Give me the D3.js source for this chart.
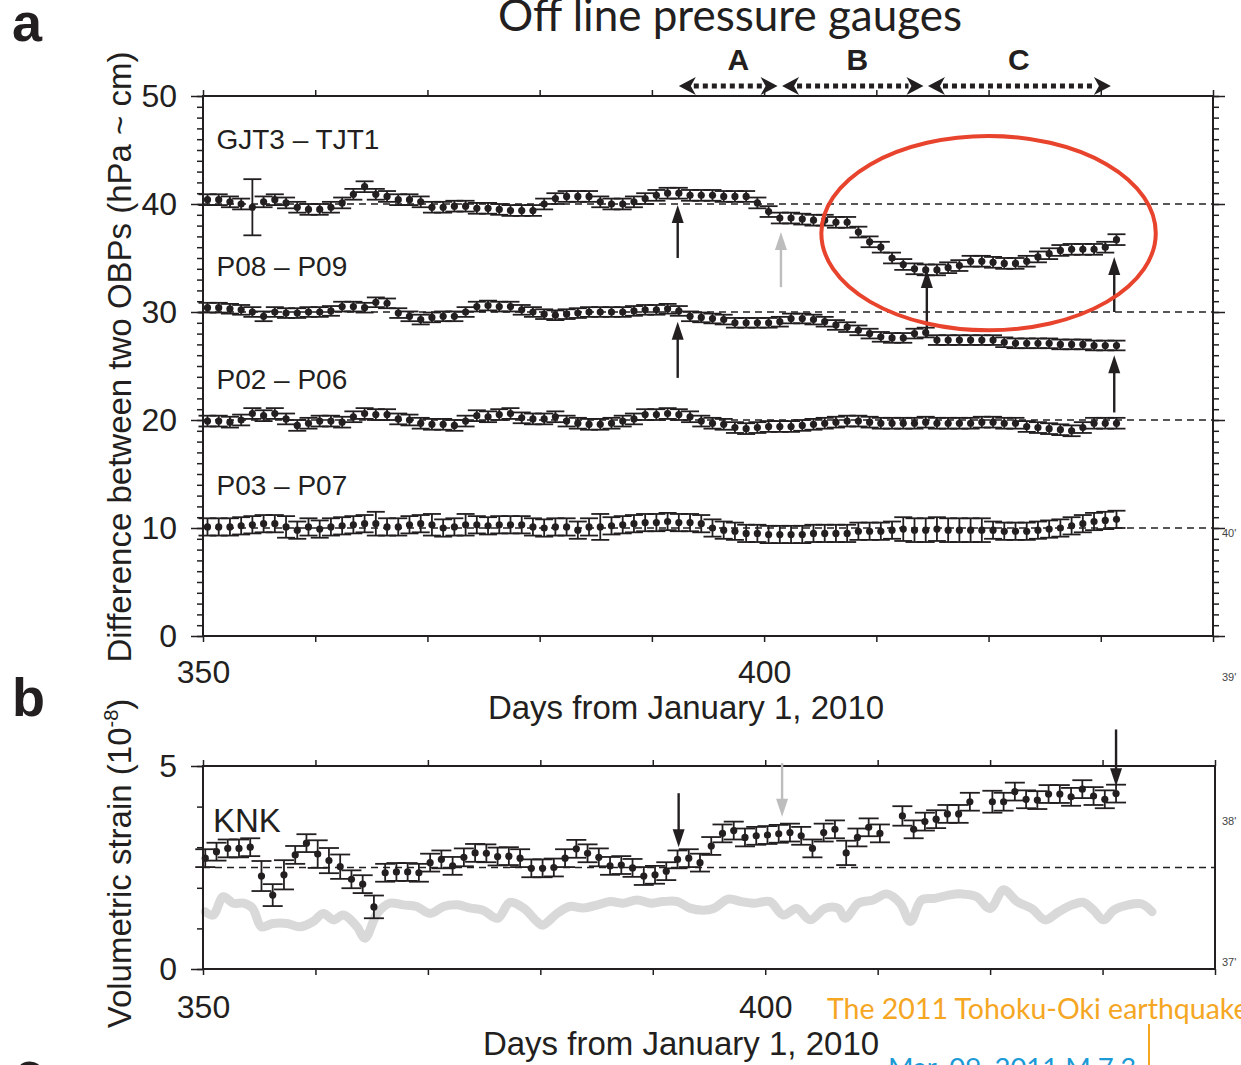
<!DOCTYPE html>
<html>
<head>
<meta charset="utf-8">
<script src="https://d3js.org/d3.v7.min.js"></script>
<style>
  body { margin: 0; background: #fff; }
  svg text { font-family: "Liberation Sans", Arial, Helvetica, sans-serif; fill: #231f20; }
  .slide { font-family: Lato, "Open Sans", "Noto Sans", sans-serif !important; }
</style>
</head>
<body>
<svg id="chart" width="1241" height="1065"></svg>
<script>
// ---------- data ----------
// panel a: daily differences between two OBPs, first sample at day 350.4
const dayStartA = 350.4;
const gjt3Tjt1 = [
  40.4, 40.4, 40.2, 40.0, 39.7, 40.2, 40.4, 40.1, 39.7, 39.5,
  39.5, 39.7, 40.1, 40.9, 41.6, 40.9, 40.7, 40.4, 40.4, 40.2,
  39.7, 39.7, 39.8, 39.8, 39.6, 39.6, 39.5, 39.4, 39.4, 39.4,
  40.0, 40.5, 40.7, 40.7, 40.7, 40.2, 40.0, 40.0, 40.2, 40.5,
  40.8, 41.0, 41.0, 40.8, 40.8, 40.8, 40.7, 40.7, 40.7, 40.1,
  39.3, 38.7, 38.7, 38.6, 38.5, 38.5, 38.3, 38.3, 37.4, 36.5,
  36.0, 35.0, 34.4, 34.0, 33.9, 33.9, 34.1, 34.3, 34.7, 34.7,
  34.6, 34.5, 34.5, 34.7, 35.1, 35.4, 35.7, 35.8, 35.8, 35.8,
  36.0, 36.7
];
const p08P09 = [
  30.4, 30.4, 30.3, 30.2, 30.0, 29.6, 30.0, 29.9, 29.9, 30.0,
  30.0, 30.1, 30.5, 30.5, 30.4, 30.9, 30.8, 29.9, 29.6, 29.3,
  29.5, 29.6, 29.6, 30.0, 30.5, 30.6, 30.5, 30.5, 30.2, 30.0,
  29.8, 29.7, 29.8, 29.9, 30.0, 30.0, 30.0, 30.0, 30.1, 30.2,
  30.2, 30.3, 30.1, 29.6, 29.5, 29.4, 29.3, 29.0, 29.0, 29.0,
  29.0, 29.1, 29.4, 29.4, 29.3, 29.1, 28.8, 28.6, 28.3, 28.0,
  27.7, 27.6, 27.6, 28.0, 28.1, 27.4, 27.4, 27.4, 27.4, 27.4,
  27.4, 27.2, 27.1, 27.1, 27.1, 27.1, 27.0, 27.0, 27.0, 26.9,
  26.9, 26.9
];
const p02P06 = [
  19.9, 19.9, 19.8, 20.0, 20.6, 20.4, 20.6, 20.1, 19.5, 19.7,
  19.9, 19.9, 19.8, 20.3, 20.6, 20.5, 20.5, 20.1, 20.0, 19.7,
  19.6, 19.6, 19.5, 19.9, 20.4, 20.3, 20.5, 20.6, 20.2, 20.1,
  20.1, 20.3, 19.9, 19.7, 19.6, 19.6, 19.7, 19.9, 20.1, 20.5,
  20.5, 20.6, 20.5, 20.3, 19.9, 19.7, 19.6, 19.3, 19.2, 19.3,
  19.4, 19.4, 19.4, 19.5, 19.6, 19.7, 19.8, 19.9, 19.9, 19.8,
  19.7, 19.7, 19.7, 19.7, 19.8, 19.7, 19.7, 19.7, 19.7, 19.8,
  19.8, 19.7, 19.7, 19.4, 19.3, 19.2, 19.1, 19.0, 19.3, 19.7,
  19.7, 19.7
];
const p03P07 = [
  10.1, 10.1, 10.1, 10.2, 10.3, 10.4, 10.4, 10.1, 9.8, 10.1,
  9.9, 10.1, 10.2, 10.3, 10.4, 10.4, 10.1, 10.1, 10.3, 10.4,
  10.3, 10.0, 10.1, 10.3, 10.3, 10.2, 10.3, 10.3, 10.3, 10.1,
  10.0, 10.1, 10.1, 9.8, 10.1, 10.1, 10.2, 10.3, 10.4, 10.5,
  10.5, 10.6, 10.5, 10.5, 10.4, 10.0, 9.8, 9.7, 9.5, 9.5,
  9.4, 9.4, 9.4, 9.4, 9.5, 9.5, 9.5, 9.5, 9.7, 9.7,
  9.7, 9.8, 9.9, 9.8, 9.8, 9.9, 9.8, 9.8, 9.8, 9.8,
  9.8, 9.7, 9.7, 9.7, 9.8, 9.9, 10.0, 10.2, 10.4, 10.6,
  10.7, 10.8
];
// error half-widths: typical value per series plus the odd ones by index
const errGjt3 = { base: 0.5, 4: 2.6 };
const errP08 = { base: 0.45 };
const errP02 = { base: 0.5 };
const errP03 = { base: 0.8, 7: 1.0, 15: 1.1, 20: 1.0, 23: 1.0, 35: 1.2,
                 62: 1.1, 63: 1.1, 64: 1.1, 65: 1.1, 66: 1.1, 67: 1.1, 68: 1.1, 69: 1.1 };
const seriesNames = ["GJT3 – TJT1", "P08 – P09", "P02 – P06", "P03 – P07"];
const refLinesA = [40, 30, 20, 10];

// panel b: KNK volumetric strain, first sample at day 350.2 (null = no sample)
const dayStartB = 350.2;
const knk = [
  2.73, 2.89, 2.97, 2.97, 3.00, 2.29, 1.82, 2.32, 2.81, 3.10,
  2.83, 2.67, 2.52, 2.21, 2.09, 1.53, 2.37, 2.39, 2.39, 2.37,
  2.62, 2.70, 2.54, 2.75, 2.86, 2.85, 2.77, 2.78, 2.73, 2.48,
  2.48, 2.50, 2.73, 2.96, 2.85, 2.75, 2.54, 2.56, 2.49, 2.29,
  2.32, 2.41, 2.70, 2.73, 2.62, 3.03, 3.34, 3.41, 3.24, 3.28,
  3.30, 3.33, 3.36, 3.28, 2.97, 3.36, 3.44, 2.86, 3.24, 3.49,
  3.34, null, 3.77, 3.44, 3.63, 3.69, 3.82, 3.82, 4.12, null,
  4.12, 4.12, 4.37, 4.18, 4.16, 4.31, 4.31, 4.24, 4.43, 4.26,
  4.18, 4.32
];
const errKnk = { base: 0.22, 5: 0.37, 6: 0.27, 7: 0.36, 10: 0.34, 11: 0.31, 12: 0.3,
                 15: 0.28, 57: 0.3, 62: 0.24, 70: 0.27 };
const refLinesB = [2.5];
// grey reference strain curve
const greyDays = [
  350.2, 350.9, 351.8, 352.7, 353.6, 354.4, 355.2, 356.2, 357.5, 358.6,
  359.8, 360.7, 361.6, 362.5, 363.7, 364.4, 365.5, 366.6, 367.8, 369.0,
  370.2, 371.4, 372.6, 373.8, 374.9, 376.2, 377.3, 378.5, 379.7, 380.2,
  381.5, 382.6, 383.8, 385.1, 386.2, 387.4, 388.6, 389.8, 390.9, 392.2,
  393.3, 394.5, 395.4, 396.7, 397.9, 399.1, 400.4, 401.6, 402.8, 404.0,
  405.3, 406.5, 407.1, 408.3, 409.6, 410.8, 412.0, 412.9, 413.9, 415.1,
  416.3, 417.5, 418.8, 420.0, 421.2, 422.4, 423.7, 424.9, 426.1, 427.3,
  428.3, 429.2, 430.1, 431.0, 432.3, 433.5, 434.4
];
const greyValues = [
  1.41, 1.33, 1.78, 1.62, 1.62, 1.50, 1.04, 1.12, 1.12, 1.04,
  1.17, 1.37, 1.21, 1.33, 1.04, 0.76, 1.37, 1.62, 1.58, 1.54,
  1.37, 1.54, 1.58, 1.50, 1.45, 1.25, 1.64, 1.50, 1.17, 1.08,
  1.37, 1.54, 1.50, 1.58, 1.66, 1.62, 1.70, 1.62, 1.66, 1.66,
  1.50, 1.45, 1.49, 1.72, 1.66, 1.62, 1.66, 1.33, 1.49, 1.21,
  1.49, 1.49, 1.25, 1.62, 1.70, 1.85, 1.62, 1.17, 1.70, 1.74,
  1.82, 1.85, 1.78, 1.49, 1.95, 1.66, 1.49, 1.21, 1.41, 1.58,
  1.64, 1.45, 1.21, 1.45, 1.58, 1.60, 1.41
];

// periods A, B, C (days) and event arrows
const periods = [
  { name: "A", from: 392.4, to: 401.2, labelDay: 397.7 },
  { name: "B", from: 401.6, to: 414.2, labelDay: 408.3 },
  { name: "C", from: 414.6, to: 430.9, labelDay: 422.7 }
];
const arrowsA = [
  { day: 392.3, from: 35.0, to: 39.9, grey: false },
  { day: 392.3, from: 23.9, to: 29.1, grey: false },
  { day: 401.5, from: 32.3, to: 37.4, grey: true },
  { day: 414.5, from: 27.7, to: 33.9, grey: false },
  { day: 431.2, from: 30.0, to: 35.1, grey: false },
  { day: 431.2, from: 20.7, to: 26.0, grey: false }
];
const arrowsB = [
  { day: 392.3, from: 4.33, to: 3.0, grey: false },
  { day: 401.5, from: 5.07, to: 3.75, grey: true },
  { day: 431.2, from: 5.9, to: 4.5, grey: false }
];
// highlighted region (red ellipse), in data units
const highlight = { day: 420.0, value: 37.3, halfDays: 14.9, halfValue: 9.0 };

const yTickLabelsA = [0, 10, 20, 30, 40, 50];
const yTickLabelsB = [0, 5];
const xTickLabels = [350, 400];

// ---------- drawing ----------
const ink = "#231f20";
const svg = d3.select("#chart");

const xA = d3.scaleLinear().domain([350, 440]).range([203, 1213]);
const yA = d3.scaleLinear().domain([0, 50]).range([636, 96]);
const xB = d3.scaleLinear().domain([350, 440]).range([203, 1215]);
const yB = d3.scaleLinear().domain([0, 5]).range([969, 766]);

const tenDays = d3.range(350, 441, 10);

function errAt(spec, i) {
  return spec[i] !== undefined ? spec[i] : spec.base;
}

function styleAxis(g, size) {
  g.select(".domain").remove();
  g.attr("color", ink);
  g.selectAll("line").attr("stroke-width", 1.5);
  g.selectAll("text").attr("font-size", size);
}

function addAxis(x, y, axis, size) {
  const g = svg.append("g").attr("transform", `translate(${x},${y})`).call(axis);
  styleAxis(g, size || 32);
  return g;
}

function drawFrame(x, y) {
  svg.append("rect")
    .attr("x", x.range()[0]).attr("y", y.range()[1])
    .attr("width", x.range()[1] - x.range()[0])
    .attr("height", y.range()[0] - y.range()[1])
    .attr("fill", "none").attr("stroke", ink).attr("stroke-width", 2);
}

function drawRefLines(x, y, values) {
  svg.append("g").selectAll("line").data(values).join("line")
    .attr("x1", x.range()[0]).attr("x2", x.range()[1])
    .attr("y1", d => y(d)).attr("y2", d => y(d))
    .attr("stroke", ink).attr("stroke-width", 1.5)
    .attr("stroke-dasharray", "7 5");
}

function drawSeries(x, y, start, values, err, capHalf) {
  const pts = values
    .map((v, i) => ({ d: start + i, v: v, e: errAt(err, i) }))
    .filter(p => p.v !== null);
  const g = svg.append("g").attr("stroke", ink).attr("stroke-width", 1.8);
  g.selectAll(".bar").data(pts).join("line").attr("class", "bar")
    .attr("x1", p => x(p.d)).attr("x2", p => x(p.d))
    .attr("y1", p => y(p.v - p.e)).attr("y2", p => y(p.v + p.e));
  g.selectAll(".capTop").data(pts).join("line").attr("class", "capTop")
    .attr("x1", p => x(p.d) - capHalf).attr("x2", p => x(p.d) + capHalf)
    .attr("y1", p => y(p.v + p.e)).attr("y2", p => y(p.v + p.e));
  g.selectAll(".capBot").data(pts).join("line").attr("class", "capBot")
    .attr("x1", p => x(p.d) - capHalf).attr("x2", p => x(p.d) + capHalf)
    .attr("y1", p => y(p.v - p.e)).attr("y2", p => y(p.v - p.e));
  g.selectAll("circle").data(pts).join("circle")
    .attr("cx", p => x(p.d)).attr("cy", p => y(p.v)).attr("r", 3.6)
    .attr("fill", ink).attr("stroke", "none");
}

function drawArrow(px, y0, y1, color) {
  const dir = y1 > y0 ? 1 : -1;
  const head = 18;
  svg.append("line")
    .attr("x1", px).attr("x2", px)
    .attr("y1", y0).attr("y2", y1 - dir * (head - 4))
    .attr("stroke", color).attr("stroke-width", 2.4);
  svg.append("path")
    .attr("d", `M${px},${y1} L${px - 6},${y1 - dir * head} L${px + 6},${y1 - dir * head} Z`)
    .attr("fill", color);
}

// ----- panel a -----
drawRefLines(xA, yA, refLinesA);

const panelA = [
  { values: gjt3Tjt1, err: errGjt3 },
  { values: p08P09, err: errP08 },
  { values: p02P06, err: errP02 },
  { values: p03P07, err: errP03 }
];
panelA.forEach(s => drawSeries(xA, yA, dayStartA, s.values, s.err, 9));

// series names sit just above each group
const nameAt = [45.1, 33.3, 22.9, 13.1];
svg.append("g").selectAll("text").data(seriesNames).join("text")
  .attr("x", xA(351.2)).attr("y", (d, i) => yA(nameAt[i]))
  .attr("font-size", 28).text(d => d);

drawFrame(xA, yA);
addAxis(xA.range()[0], 0, d3.axisLeft(yA).tickValues(d3.range(0, 51)).tickSize(6).tickFormat(""));
addAxis(xA.range()[0], 0, d3.axisLeft(yA).tickValues(yTickLabelsA).tickSize(12).tickPadding(14));
addAxis(xA.range()[1], 0, d3.axisRight(yA).tickValues(d3.range(0, 51)).tickSize(6).tickFormat(""));
addAxis(xA.range()[1], 0, d3.axisRight(yA).tickValues(yTickLabelsA).tickSize(12).tickFormat(""));
addAxis(0, yA.range()[1], d3.axisTop(xA).tickValues(tenDays).tickSize(6).tickFormat(""));
addAxis(0, yA.range()[0], d3.axisBottom(xA).tickValues(tenDays).tickSize(6).tickFormat(""));
addAxis(0, yA.range()[0], d3.axisBottom(xA).tickValues(xTickLabels).tickSize(0).tickPadding(24));

// period arrows A / B / C above the frame
const periodY = yA(50) - 10;
const pg = svg.append("g");
periods.forEach(p => {
  const x0 = xA(p.from), x1 = xA(p.to);
  pg.append("line")
    .attr("x1", x0 + 15).attr("x2", x1 - 15)
    .attr("y1", periodY).attr("y2", periodY)
    .attr("stroke", ink).attr("stroke-width", 5)
    .attr("stroke-dasharray", "5 4");
  pg.append("path")
    .attr("d", `M${x0},${periodY} L${x0 + 17},${periodY - 9} L${x0 + 12},${periodY} L${x0 + 17},${periodY + 9} Z`)
    .attr("fill", ink);
  pg.append("path")
    .attr("d", `M${x1},${periodY} L${x1 - 17},${periodY - 9} L${x1 - 12},${periodY} L${x1 - 17},${periodY + 9} Z`)
    .attr("fill", ink);
  pg.append("text")
    .attr("x", xA(p.labelDay)).attr("y", periodY - 16)
    .attr("text-anchor", "middle").attr("font-size", 30).attr("font-weight", "bold")
    .text(p.name);
});

arrowsA.forEach(a => drawArrow(xA(a.day), yA(a.from), yA(a.to), a.grey ? "#bdbdbd" : ink));

svg.append("ellipse")
  .attr("cx", xA(highlight.day)).attr("cy", yA(highlight.value))
  .attr("rx", xA(highlight.day + highlight.halfDays) - xA(highlight.day))
  .attr("ry", yA(highlight.value - highlight.halfValue) - yA(highlight.value))
  .attr("fill", "none").attr("stroke", "#e8432d").attr("stroke-width", 4);

svg.append("text")
  .attr("transform", `translate(131,${(yA(50) + yA(0)) / 2 - 9}) rotate(-90)`)
  .attr("text-anchor", "middle").attr("font-size", 33)
  .text("Difference between two OBPs (hPa ~ cm)");
svg.append("text")
  .attr("x", 686).attr("y", 719).attr("text-anchor", "middle").attr("font-size", 33)
  .text("Days from January 1, 2010");

// ----- panel b -----
drawRefLines(xB, yB, refLinesB);

const greyLine = d3.line()
  .x((d, i) => xB(greyDays[i])).y(d => yB(d))
  .curve(d3.curveCatmullRom);
svg.append("path")
  .attr("d", greyLine(greyValues))
  .attr("fill", "none").attr("stroke", "#d9d9d9").attr("stroke-width", 9)
  .attr("stroke-linecap", "round").attr("stroke-linejoin", "round");

drawSeries(xB, yB, dayStartB, knk, errKnk, 10);

svg.append("text").attr("x", 213).attr("y", yB(3.37)).attr("font-size", 33).text("KNK");

drawFrame(xB, yB);
addAxis(xB.range()[0], 0, d3.axisLeft(yB).tickValues(d3.range(0, 6)).tickSize(6).tickFormat(""));
addAxis(xB.range()[0], 0, d3.axisLeft(yB).tickValues(yTickLabelsB).tickSize(12).tickPadding(14)
  .tickFormat(d3.format("d")));
addAxis(0, yB.range()[1], d3.axisTop(xB).tickValues(tenDays).tickSize(6).tickFormat(""));
addAxis(0, yB.range()[0], d3.axisBottom(xB).tickValues(tenDays).tickSize(6).tickFormat(""));
addAxis(0, yB.range()[0], d3.axisBottom(xB).tickValues(xTickLabels).tickSize(0).tickPadding(26));

arrowsB.forEach(a => drawArrow(xB(a.day), yB(a.from), yB(a.to), a.grey ? "#bdbdbd" : ink));

const ylabB = svg.append("text")
  .attr("transform", `translate(131,${(yB(5) + yB(0)) / 2 - 4}) rotate(-90)`)
  .attr("text-anchor", "middle").attr("font-size", 33);
ylabB.append("tspan").text("Volumetric strain (10");
ylabB.append("tspan").attr("font-size", 20).attr("dy", -13).text("-8");
ylabB.append("tspan").attr("dy", 13).text(")");
svg.append("text")
  .attr("x", 681).attr("y", 1055).attr("text-anchor", "middle").attr("font-size", 33)
  .text("Days from January 1, 2010");

// ----- panel letters, slide title and side notes -----
svg.append("text").attr("x", 12).attr("y", 41).attr("font-size", 54).attr("font-weight", "bold").text("a");
svg.append("text").attr("x", 12).attr("y", 716).attr("font-size", 54).attr("font-weight", "bold").text("b");
svg.append("text").attr("x", 14).attr("y", 1090).attr("font-size", 54).attr("font-weight", "bold").text("c");

svg.append("text").attr("class", "slide")
  .attr("x", 730).attr("y", 31).attr("text-anchor", "middle").attr("font-size", 44)
  .text("Off line pressure gauges");

const sideNotes = [["40'", 537], ["39'", 681], ["38'", 825], ["37'", 966]];
svg.append("g").selectAll("text").data(sideNotes).join("text")
  .attr("x", 1222).attr("y", d => d[1]).attr("font-size", 11)
  .style("fill", "#444").text(d => d[0]);

svg.append("text").attr("class", "slide")
  .attr("x", 827).attr("y", 1019).attr("font-size", 28.5)
  .style("fill", "#f5a623").text("The 2011 Tohoku-Oki earthquake");
svg.append("text").attr("class", "slide")
  .attr("x", 888).attr("y", 1077).attr("font-size", 27.5)
  .style("fill", "#1b9ad6").text("Mar. 09, 2011 M 7.3");
svg.append("line")
  .attr("x1", 1149).attr("x2", 1149).attr("y1", 1024).attr("y2", 1065)
  .attr("stroke", "#f5a623").attr("stroke-width", 2);
</script>
</body>
</html>
